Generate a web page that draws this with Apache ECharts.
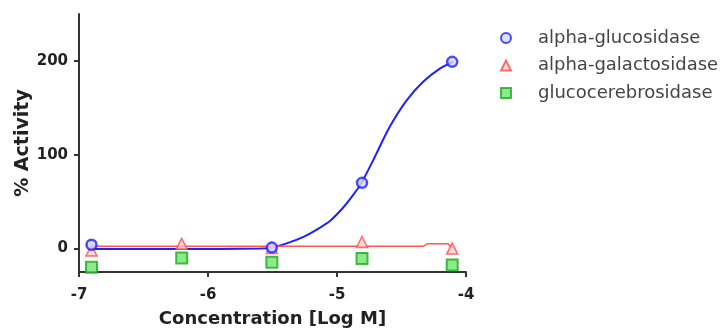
<!DOCTYPE html>
<html>
<head>
<meta charset="utf-8">
<script src="https://cdn.jsdelivr.net/npm/echarts@6/dist/echarts.min.js"></script>
<style>
  html, body { margin: 0; padding: 0; background: #fff; }
  #chart { width: 727px; height: 333px; }
</style>
</head>
<body>
<div id="chart"></div>
<script>
// log concentration of each well (5-fold dilutions)
const logConc = [-6.903, -6.204, -5.505, -4.806, -4.107];

// measured % activity
const glucosidase = [4, null, 1, 70, 199];
const galactosidase = [-2, 5, 0.5, 7, 0];
const cerebrosidase = [-20, -10, -14.5, -10.5, -17.5];

// fitted curves
const glucFitX = [-6.9, -6.2, -5.6, -5.514, -5.39, -5.26, -5.16, -5.05, -4.95, -4.87, -4.81, -4.72, -4.59, -4.46, -4.33, -4.2, -4.1];
const glucFitY = [-0.5, -0.5, 0, 0.7, 5.5, 12.5, 20, 30, 44, 58, 70, 94, 130, 158, 178, 192, 199];
const galFitX = [-6.9, -4.33, -4.3, -4.14, -4.1];
const galFitY = [2.5, 2.5, 5, 5, 0];

const xTicks = [-7, -6, -5, -4];
const yTicks = [0, 100, 200];

const seriesNames = ['alpha-glucosidase', 'alpha-galactosidase', 'glucocerebrosidase'];

const pairs = (xs, ys) => xs.map((x, i) => [x, ys[i]]).filter(p => p[1] !== null);

const chart = echarts.init(document.getElementById('chart'));

const axisColor = '#333';
const boldFont = { color: '#222', fontFamily: 'DejaVu Sans', fontWeight: 'bold' };

const option = {
  animation: false,
  grid: { left: 79, right: 261, top: 14, bottom: 61 },
  legend: {
    orient: 'vertical',
    left: 495,
    top: 23,
    itemGap: 7.5,
    itemWidth: 10,
    itemHeight: 10,
    textStyle: { color: '#444', fontFamily: 'DejaVu Sans', fontSize: 18, lineHeight: 20, padding: [0, 0, 0, 22] },
    data: seriesNames
  },
  xAxis: {
    type: 'value',
    min: -7,
    max: -4,
    interval: 1,
    name: 'Concentration [Log M]',
    nameLocation: 'middle',
    nameGap: 38,
    nameMoveOverlap: false,
    nameTextStyle: Object.assign({ fontSize: 18 }, boldFont),
    splitLine: { show: false },
    axisLine: { onZero: false, lineStyle: { color: axisColor, width: 2 } },
    axisTick: { show: true, length: 5, lineStyle: { color: axisColor, width: 2 } },
    axisLabel: Object.assign({ margin: 16, fontSize: 15, formatter: v => xTicks.includes(v) ? String(v) : '' }, boldFont)
  },
  yAxis: {
    type: 'value',
    min: -25,
    max: 250,
    name: '% Activity',
    nameLocation: 'middle',
    nameGap: 46,
    nameMoveOverlap: false,
    nameTextStyle: Object.assign({ fontSize: 19 }, boldFont),
    splitLine: { show: false },
    axisLine: { show: true, onZero: false, lineStyle: { color: axisColor, width: 2 } },
    axisTick: { show: true, length: 5, customValues: yTicks, lineStyle: { color: axisColor, width: 2 } },
    axisLabel: Object.assign({ margin: 11, fontSize: 15, customValues: yTicks }, boldFont)
  },
  series: [
    {
      name: 'glucosidase fit',
      type: 'line',
      data: pairs(glucFitX, glucFitY),
      smooth: 0.3,
      showSymbol: false,
      lineStyle: { color: '#1f1fff', width: 2 },
      z: 2
    },
    {
      name: 'galactosidase fit',
      type: 'line',
      data: pairs(galFitX, galFitY),
      showSymbol: false,
      lineStyle: { color: '#ff5555', width: 1.5 },
      z: 2
    },
    {
      name: seriesNames[2],
      type: 'scatter',
      data: pairs(logConc, cerebrosidase),
      symbol: 'rect',
      symbolSize: 11,
      itemStyle: { color: '#6ee66e', borderColor: '#1ea81e', borderWidth: 2 },
      z: 3
    },
    {
      name: seriesNames[1],
      type: 'scatter',
      data: pairs(logConc, galactosidase),
      symbol: 'triangle',
      symbolSize: 11,
      itemStyle: { color: '#ffd0d0', borderColor: '#ff4a4a', borderWidth: 1.5 },
      z: 4
    },
    {
      name: seriesNames[0],
      type: 'scatter',
      data: pairs(logConc, glucosidase),
      symbol: 'circle',
      symbolSize: 10,
      itemStyle: { color: '#d6d6ff', borderColor: '#1f1fff', borderWidth: 2.5 },
      z: 5
    }
  ]
};

chart.setOption(option);
</script>
</body>
</html>
